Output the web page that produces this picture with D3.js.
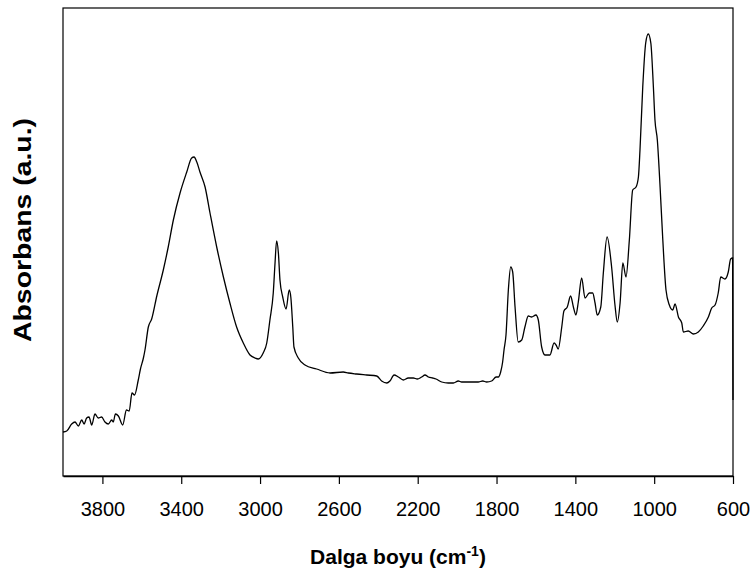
<!DOCTYPE html>
<html>
<head>
<meta charset="utf-8">
<script src="https://cdn.jsdelivr.net/npm/d3@7"></script>
<style>
  body { margin: 0; background: #fff; }
  text { font-family: "Liberation Sans", Arial, sans-serif; }
</style>
</head>
<body>
<script>
// spectrum: wavenumber (cm-1) and absorbance (a.u.)
var wavenumbers = [4000, 3981, 3956, 3939, 3922, 3905, 3893, 3880, 3868, 3854,
  3838, 3821, 3804, 3787, 3770, 3753, 3745, 3734, 3719, 3697,
  3678, 3664, 3650, 3637, 3618, 3607, 3592, 3584, 3567, 3550,
  3524, 3491, 3466, 3440, 3406, 3372, 3347, 3335, 3321, 3305,
  3279, 3254, 3220, 3186, 3153, 3119, 3085, 3051, 3026, 3009,
  2984, 2966, 2950, 2933, 2924, 2916, 2907, 2899, 2885, 2868,
  2852, 2844, 2834, 2828, 2806, 2772, 2713, 2645, 2578, 2552,
  2510, 2459, 2408, 2383, 2357, 2341, 2320, 2298, 2273, 2248,
  2222, 2202, 2180, 2163, 2146, 2124, 2107, 2078, 2045, 2019,
  1994, 1977, 1955, 1934, 1918, 1893, 1870, 1850, 1825, 1802,
  1791, 1779, 1769, 1762, 1752, 1740, 1728, 1718, 1706, 1690,
  1672, 1656, 1639, 1622, 1600, 1588, 1571, 1554, 1529, 1508,
  1498, 1487, 1469, 1458, 1441, 1424, 1410, 1397, 1385, 1368,
  1351, 1329, 1312, 1300, 1289, 1271, 1258, 1239, 1216, 1199,
  1187, 1173, 1159, 1143, 1126, 1109, 1092, 1080, 1072, 1058,
  1043, 1030, 1017, 1004, 996, 984, 970, 957, 940, 923,
  906, 894, 877, 860, 852, 827, 801, 776, 751, 725,
  708, 691, 675, 662, 641, 624, 612, 602, 600]

var absorbance = [0.044, 0.045, 0.052, 0.054, 0.050, 0.056, 0.052, 0.058, 0.059, 0.051,
  0.062, 0.058, 0.059, 0.054, 0.052, 0.056, 0.054, 0.062, 0.060, 0.051,
  0.066, 0.065, 0.083, 0.081, 0.096, 0.107, 0.118, 0.126, 0.149, 0.157,
  0.180, 0.206, 0.229, 0.256, 0.283, 0.304, 0.318, 0.319, 0.314, 0.304,
  0.289, 0.263, 0.229, 0.199, 0.173, 0.149, 0.133, 0.121, 0.118, 0.117,
  0.123, 0.133, 0.156, 0.183, 0.213, 0.235, 0.223, 0.196, 0.179, 0.167,
  0.186, 0.179, 0.149, 0.129, 0.118, 0.111, 0.107, 0.103, 0.104, 0.103,
  0.102, 0.101, 0.100, 0.095, 0.093, 0.095, 0.101, 0.099, 0.096, 0.098,
  0.098, 0.097, 0.099, 0.101, 0.099, 0.098, 0.097, 0.094, 0.093, 0.093,
  0.095, 0.094, 0.094, 0.094, 0.094, 0.094, 0.095, 0.094, 0.095, 0.099,
  0.099, 0.104, 0.114, 0.126, 0.141, 0.186, 0.209, 0.204, 0.169, 0.134,
  0.136, 0.149, 0.160, 0.159, 0.161, 0.156, 0.129, 0.121, 0.121, 0.133,
  0.131, 0.127, 0.149, 0.165, 0.169, 0.180, 0.169, 0.161, 0.174, 0.198,
  0.178, 0.183, 0.183, 0.173, 0.161, 0.169, 0.203, 0.239, 0.209, 0.171,
  0.154, 0.173, 0.213, 0.199, 0.236, 0.286, 0.289, 0.299, 0.326, 0.389,
  0.433, 0.442, 0.433, 0.389, 0.356, 0.336, 0.289, 0.239, 0.186, 0.171,
  0.166, 0.172, 0.159, 0.153, 0.144, 0.145, 0.142, 0.144, 0.150, 0.159,
  0.168, 0.171, 0.183, 0.199, 0.197, 0.204, 0.217, 0.218, 0.076]

var xTicks = [3800, 3400, 3000, 2600, 2200, 1800, 1400, 1000, 600]

var data = wavenumbers.map((w, i) => ({ w: w, a: absorbance[i] }))

var w = 753
var h = 574
var plotLeft = 63, plotRight = 733, plotTop = 8, plotBottom = 476

var svg = d3.select("body")
  .append("svg")
  .attr("width", w)
  .attr("height", h)

// wavenumber axis runs from high to low
var xScale = d3.scaleLinear()
  .domain([4000, 600])
  .range([plotLeft, plotRight])

var yScale = d3.scaleLinear()
  .domain([0, 0.468])
  .range([plotBottom, plotTop])

// frame round the plot
svg.append("rect")
  .attr("x", plotLeft)
  .attr("y", plotTop)
  .attr("width", plotRight - plotLeft)
  .attr("height", plotBottom - plotTop)
  .attr("fill", "none")
  .attr("stroke", "#000")
  .attr("stroke-width", 1.2)

// spectrum
var line = d3.line()
  .x(d => xScale(d.w))
  .y(d => yScale(d.a))
  .curve(d3.curveMonotoneX)

svg.append("path")
  .datum(data)
  .attr("d", line)
  .attr("fill", "none")
  .attr("stroke", "#000")
  .attr("stroke-width", 1.3)

// x axis with ticks below
var xAxis = d3.axisBottom(xScale)
  .tickValues(xTicks)
  .tickFormat(d3.format("d"))
  .tickSize(8)
  .tickSizeOuter(0)
  .tickPadding(18)

var gx = svg.append("g")
  .attr("id", "x-axis")
  .attr("transform", "translate(0," + plotBottom + ")")
  .call(xAxis)

gx.select(".domain").attr("stroke-width", 1.4)
gx.selectAll(".tick line").attr("stroke-width", 1.2)
gx.selectAll(".tick text")
  .style("font-size", "20px")
  .style("font-family", "'Liberation Sans', Arial, sans-serif")
  .attr("fill", "#000")

// axis titles
var xTitle = svg.append("text")
  .attr("x", (plotLeft + plotRight) / 2)
  .attr("y", 564)
  .attr("text-anchor", "middle")
  .style("font-size", "21px")
  .style("font-weight", "bold")
xTitle.append("tspan").text("Dalga boyu (cm")
xTitle.append("tspan").attr("dy", -8).style("font-size", "14px").text("-1")
xTitle.append("tspan").attr("dy", 8).text(")")

svg.append("text")
  .attr("transform", "translate(31,230) rotate(-90)")
  .attr("text-anchor", "middle")
  .attr("textLength", 224)
  .attr("lengthAdjust", "spacingAndGlyphs")
  .style("font-size", "23px")
  .style("font-weight", "bold")
  .text("Absorbans (a.u.)")
</script>
</body>
</html>
